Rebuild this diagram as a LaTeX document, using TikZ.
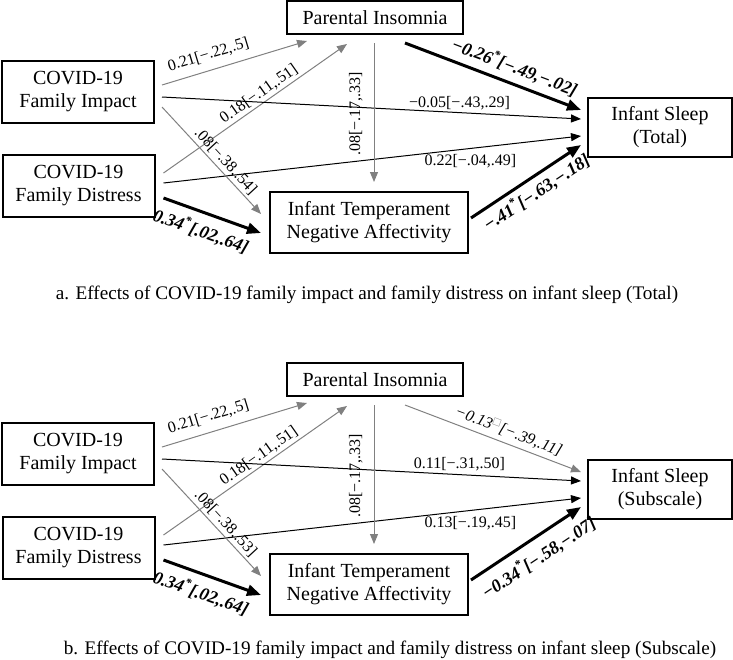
\documentclass[tikz,border=0pt]{standalone}
\usepackage{fontspec}
\setmainfont{Liberation Serif}
\usepackage{tikz}
\usetikzlibrary{arrows.meta, calc}
\definecolor{pathgray}{HTML}{808080}

\begin{document}
\begin{tikzpicture}[x=0.5pt, y=-0.5pt,
                    varbox/.style={rectangle, draw, line width=1pt, align=center, inner sep=0pt, font=\fontsize{10}{11.5}\selectfont},
                    insomniabox/.style={varbox, minimum width=88pt, minimum height=16.5pt},
                    covidbox/.style={varbox, minimum width=76pt, minimum height=31pt},
                    tempbox/.style={varbox, minimum width=99pt, minimum height=30.5pt},
                    sleepbox/.style={varbox, minimum width=72pt, minimum height=29.5pt},
                    thinpath/.style={-{Triangle[length=5pt, width=4pt]}, line width=0.5pt, pathgray},
                    plainpath/.style={-{Triangle[length=5pt, width=4pt]}, line width=0.5pt},
                    sigpath/.style={-{Triangle[length=7pt, width=5.5pt]}, line width=1.5pt},
                    coef/.style={font=\fontsize{8}{10}\selectfont, text=black, inner xsep=0pt},
                    sigcoef/.style={coef, font=\fontsize{9}{10}\selectfont\bfseries\itshape},
                    caption/.style={font=\fontsize{9.6}{11}\selectfont, inner sep=0pt}]

    \useasboundingbox (0,0) rectangle (733,659);

    % Panel a: Nodes
    \node[insomniabox] (pinsa) at (375,17.5) {Parental Insomnia};
    \node[covidbox] (fimpa) at (78,91.5) {COVID-19\\Family Impact};
    \node[covidbox] (fdisa) at (78.5,185.5) {COVID-19\\Family Distress};
    \node[tempbox] (tempa) at (369,222.5) {Infant Temperament\\Negative Affectivity};
    \node[sleepbox] (sleepa) at (660,127.5) {Infant Sleep\\(Total)};

    % Panel a: Paths
    \draw[thinpath] ($(fimpa.east)+(7,-6.5)$) -- ($(pinsa.south)+(-68,6)$) node[coef, pos=0.35, sloped, above, inner ysep=4pt] {0.21[−.22,.5]};
    \draw[thinpath] ($(fdisa.east)+(8,-12.5)$) -- ($(pinsa.south)+(-28,9)$) node[coef, pos=0.55, sloped, above, inner ysep=1.2pt] {0.18[−.11,.51]};
    \draw[plainpath] ($(fimpa.east)+(7,5.5)$) -- ($(sleepa.west)+(-6,-8.5)$) node[coef, pos=0.71, above, inner ysep=1pt] {−0.05[−.43,.29]};
    \draw[plainpath] ($(fdisa.east)+(8,-2.5)$) -- ($(sleepa.west)+(-6,8.5)$) node[coef, pos=0.735, below, inner ysep=2.5pt] {0.22[−.04,.49]};
    \draw[thinpath] ($(fimpa.east)+(7,15.5)$) -- ($(tempa.west)+(-8,-8.5)$) node[coef, pos=0.57, sloped, above, inner ysep=1.2pt] {.08[−.38,.54]};
    \draw[sigpath] ($(fdisa.east)+(8,12.5)$) -- ($(tempa.west)+(-8,10.5)$) node[sigcoef, pos=0.45, sloped, below, inner ysep=3.8pt] {0.34\textsuperscript{*}[.02,.64]};
    \draw[thinpath] ($(pinsa.south)+(-1,8)$) -- ($(tempa.north)+(5,-9)$) node[coef, pos=0.51, rotate=90, above, inner ysep=5.5pt] {.08[−.17,.33]};
    \draw[sigpath] ($(pinsa.south)+(30,8)$) -- ($(sleepa.west)+(-6,-17.5)$) node[sigcoef, pos=0.59, sloped, above, inner ysep=3pt] {−0.26\textsuperscript{*}[−.49,−.02]};
    \draw[sigpath] ($(tempa.east)+(2,-4.5)$) -- ($(sleepa.west)+(-6,17.5)$) node[sigcoef, pos=0.52, sloped, below, inner ysep=2pt] {−.41\textsuperscript{*}[−.63,−.18]};

    \node[caption] (capa) at (367,295) {a. Effects of COVID-19 family impact and family distress on infant sleep (Total)};

    % Panel b: Nodes
    \node[insomniabox] (pinsb) at (375,379.5) {Parental Insomnia};
    \node[covidbox] (fimpb) at (78,453.5) {COVID-19\\Family Impact};
    \node[covidbox] (fdisb) at (78.5,547.5) {COVID-19\\Family Distress};
    \node[tempbox] (tempb) at (369,584.5) {Infant Temperament\\Negative Affectivity};
    \node[sleepbox] (sleepb) at (660,489.5) {Infant Sleep\\(Subscale)};

    % Panel b: Paths
    \draw[thinpath] ($(fimpb.east)+(7,-6.5)$) -- ($(pinsb.south)+(-68,6)$) node[coef, pos=0.35, sloped, above, inner ysep=4pt] {0.21[−.22,.5]};
    \draw[thinpath] ($(fdisb.east)+(8,-12.5)$) -- ($(pinsb.south)+(-28,9)$) node[coef, pos=0.55, sloped, above, inner ysep=1.2pt] {0.18[−.11,.51]};
    \draw[plainpath] ($(fimpb.east)+(7,5.5)$) -- ($(sleepb.west)+(-6,-8.5)$) node[coef, pos=0.71, above, inner ysep=1.5pt] {0.11[−.31,.50]};
    \draw[plainpath] ($(fdisb.east)+(8,-2.5)$) -- ($(sleepb.west)+(-6,8.5)$) node[coef, pos=0.735, below, inner ysep=2.5pt] {0.13[−.19,.45]};
    \draw[thinpath] ($(fimpb.east)+(7,15.5)$) -- ($(tempb.west)+(-8,-8.5)$) node[coef, pos=0.57, sloped, above, inner ysep=1.2pt] {.08[−.38,.53]};
    \draw[sigpath] ($(fdisb.east)+(8,12.5)$) -- ($(tempb.west)+(-8,10.5)$) node[sigcoef, pos=0.45, sloped, below, inner ysep=3.8pt] {0.34\textsuperscript{*}[.02,.64]};
    \draw[thinpath] ($(pinsb.south)+(-1,8)$) -- ($(tempb.north)+(5,-9)$) node[coef, pos=0.51, rotate=90, above, inner ysep=5.5pt] {.08[−.17,.33]};
    \draw[thinpath] ($(pinsb.south)+(30,8)$) -- ($(sleepb.west)+(-6,-17.5)$) node[coef, pos=0.565, sloped, above, inner ysep=2.2pt] {\textit{−0.13}\textsuperscript{\textcolor{pathgray}{□}}\textit{[−.39,.11]}};
    \draw[sigpath] ($(tempb.east)+(2,-4.5)$) -- ($(sleepb.west)+(-6,17.5)$) node[sigcoef, pos=0.52, sloped, below, inner ysep=4pt] {−0.34\textsuperscript{*}[−.58,−.07]};

    \node[caption] (capb) at (390,650) {b. Effects of COVID-19 family impact and family distress on infant sleep (Subscale)};

\end{tikzpicture}
\end{document}
